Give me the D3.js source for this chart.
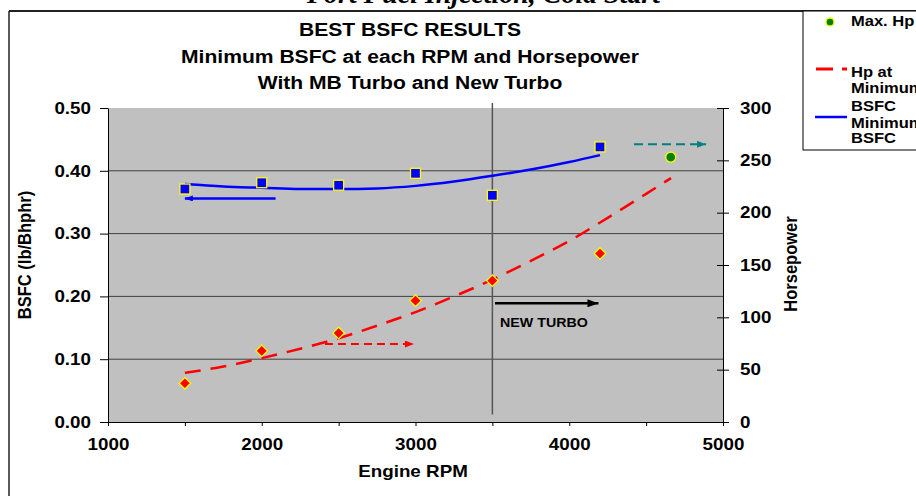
<!DOCTYPE html>
<html>
<head>
<meta charset="utf-8">
<script src="https://cdn.jsdelivr.net/npm/d3@7"></script>
<style>
  body { margin: 0; background: #fff; }
  svg text { font-family: "Liberation Sans", Arial, sans-serif; font-weight: bold; fill: #000; }
</style>
</head>
<body>
<svg id="chart" width="916" height="496"></svg>
<script>
// data
const rpm = [1500, 2000, 2500, 3000, 3500, 4200];
const bsfc = [0.371, 0.381, 0.377, 0.396, 0.361, 0.438];
const hp = [37, 68, 85, 116, 135, 161];
const maxHpRpm = [4660];
const maxHp = [253];

// trend lines as drawn
const bsfcTrendRpm = [1500, 1750, 2000, 2250, 2500, 2750, 3000, 3250, 3500, 3750, 4000, 4200];
const bsfcTrend = [0.379, 0.375, 0.373, 0.371, 0.371, 0.372, 0.376, 0.383, 0.392, 0.402, 0.414, 0.425];
const hpTrendRpm = [1500, 1750, 2000, 2250, 2500, 2750, 3000, 3250, 3500, 3750, 4000, 4250, 4500, 4662];
const hpTrend = [47, 53, 61, 70, 80, 92, 105, 120, 136, 154, 173, 195, 218, 233];

const xTicks = [1000, 2000, 3000, 4000, 5000];
const titleLines = ['BEST BSFC RESULTS', 'Minimum BSFC at each RPM and Horsepower', 'With MB Turbo and New Turbo'];

const SX = 1.14; // text in the picture is stretched sideways
const svg = d3.select('#chart');

const x = d3.scaleLinear().domain([1000, 5000]).range([108, 723]);
const yL = d3.scaleLinear().domain([0, 0.5]).range([422, 108]);
const yR = d3.scaleLinear().domain([0, 300]).range([422, 108]);

function stretch(sel) {
  sel.each(function () {
    const t = d3.select(this);
    const tx = +t.attr('x') || 0;
    t.attr('x', null).attr('transform', `translate(${tx},0) scale(${SX},1)`);
  });
}

function label(txt, px, py, size, anchor, rot) {
  return svg.append('text')
    .attr('transform', `translate(${px},${py}) scale(${SX},1)` + (rot ? ` rotate(${rot})` : ''))
    .attr('text-anchor', anchor || 'start')
    .style('font-size', size + 'px')
    .text(txt);
}

// markers
const defs = svg.append('defs');
function arrowHead(id, color, w, h) {
  defs.append('marker')
    .attr('id', id).attr('viewBox', `0 0 ${w} ${h}`)
    .attr('refX', w).attr('refY', h / 2)
    .attr('markerWidth', w).attr('markerHeight', h)
    .attr('markerUnits', 'userSpaceOnUse')
    .attr('orient', 'auto')
    .append('path').attr('d', `M0,0L${w},${h / 2}L0,${h}Z`).attr('fill', color);
}
arrowHead('ahBlue', '#0000ff', 8, 6);
arrowHead('ahRed', '#ff0000', 9, 7);
arrowHead('ahTeal', '#008080', 9, 7);
arrowHead('ahBlack', '#000', 11, 8);

// cut off heading at top
svg.append('text')
  .attr('x', 307).attr('y', 3)
  .attr('textLength', 353).attr('lengthAdjust', 'spacingAndGlyphs')
  .style('font-family', '"Liberation Serif", serif').style('font-style', 'italic')
  .style('font-size', '28px')
  .text('Port Fuel Injection, Cold Start');

// outer frame
svg.append('line').attr('x1', 9).attr('x2', 916).attr('y1', 11).attr('y2', 11)
  .attr('stroke', '#222').attr('stroke-width', 2);
svg.append('line').attr('x1', 9).attr('x2', 9).attr('y1', 11).attr('y2', 496)
  .attr('stroke', '#222').attr('stroke-width', 1.5);

// plot area
svg.append('rect').attr('x', x(1000)).attr('y', yL(0.5))
  .attr('width', x(5000) - x(1000)).attr('height', yL(0) - yL(0.5))
  .attr('fill', '#c0c0c0');

// grid
svg.append('g').selectAll('line').data([0.1, 0.2, 0.3, 0.4]).join('line')
  .attr('x1', x(1000)).attr('x2', x(5000))
  .attr('y1', d => yL(d)).attr('y2', d => yL(d))
  .attr('stroke', '#404040').attr('stroke-width', 1);

// vertical divider at 3500
svg.append('line').attr('x1', x(3500)).attr('x2', x(3500))
  .attr('y1', yL(0.508)).attr('y2', yL(0.012))
  .attr('stroke', '#555').attr('stroke-width', 1.5);

// axes
const gx = svg.append('g').attr('transform', `translate(0,${yL(0)})`);
gx.call(d3.axisBottom(x).tickValues(d3.range(1000, 5001, 500)).tickSize(4).tickSizeOuter(0).tickFormat(d => xTicks.includes(d) ? d : ''))
  .call(g => g.select('.domain').attr('stroke', '#000'))
  .call(g => g.selectAll('text').attr('y', 16).style('font-size', '16.5px').call(stretch));

const gl = svg.append('g').attr('transform', `translate(${x(1000)},0)`);
gl.call(d3.axisLeft(yL).tickValues(d3.range(0, 0.5001, 0.05)).tickSize(5).tickSizeOuter(0).tickFormat(() => ''));
gl.call(d3.axisLeft(yL).ticks(5).tickSize(8).tickPadding(9).tickSizeOuter(0).tickFormat(d3.format('.2f')))
  .call(g => g.selectAll('text').style('font-size', '16.5px').call(stretch));

const gr = svg.append('g').attr('transform', `translate(${x(5000)},0)`);
gr.call(d3.axisRight(yR).tickValues(d3.range(0, 301, 10)).tickSize(5).tickSizeOuter(0).tickFormat(() => ''));
gr.call(d3.axisRight(yR).tickValues(d3.range(0, 301, 50)).tickSize(6).tickPadding(11).tickSizeOuter(0))
  .call(g => g.selectAll('.tick line').attr('x1', -6))
  .call(g => g.selectAll('text').style('font-size', '16.5px').call(stretch));

// trend lines
svg.append('path')
  .datum(d3.zip(bsfcTrendRpm, bsfcTrend))
  .attr('d', d3.line().x(d => x(d[0])).y(d => yL(d[1])).curve(d3.curveMonotoneX))
  .attr('fill', 'none').attr('stroke', '#0000ff').attr('stroke-width', 2.5);

svg.append('path')
  .datum(d3.zip(hpTrendRpm, hpTrend))
  .attr('d', d3.line().x(d => x(d[0])).y(d => yR(d[1])).curve(d3.curveMonotoneX))
  .attr('fill', 'none').attr('stroke', '#ff0000').attr('stroke-width', 2.5)
  .attr('stroke-dasharray', '16,10');

// annotation arrows (data coordinates)
function arrow(x0, x1, yv, scale, color, marker, dash, w) {
  svg.append('line')
    .attr('x1', x(x0)).attr('x2', x(x1)).attr('y1', scale(yv)).attr('y2', scale(yv))
    .attr('stroke', color).attr('stroke-width', w)
    .attr('stroke-dasharray', dash)
    .attr('marker-end', `url(#${marker})`);
}
arrow(2090, 1500, 0.356, yL, '#0000ff', 'ahBlue', null, 2.5);
arrow(2411, 2990, 74.5, yR, '#ff0000', 'ahRed', '8,5', 2);
arrow(4421, 4890, 265.3, yR, '#008080', 'ahTeal', '9,5', 2);
arrow(3517, 4190, 113.4, yR, '#000', 'ahBlack', null, 2.5);
label('NEW TURBO', x(3550), yR(90.6), 12.5, 'start');

// points
const pts = d3.zip(rpm, bsfc, hp);
svg.append('g').selectAll('rect').data(pts).join('rect')
  .attr('x', d => x(d[0]) - 5).attr('y', d => yL(d[1]) - 5)
  .attr('width', 10).attr('height', 10)
  .attr('fill', '#0000ff').attr('stroke', '#ffff00').attr('stroke-width', 1.3);

svg.append('g').selectAll('path').data(pts).join('path')
  .attr('d', d3.symbol(d3.symbolDiamond2, 85))
  .attr('transform', d => `translate(${x(d[0])},${yR(d[2])})`)
  .attr('fill', '#ff0000').attr('stroke', '#ffff00').attr('stroke-width', 1.2);

svg.append('g').selectAll('circle').data(d3.zip(maxHpRpm, maxHp)).join('circle')
  .attr('cx', d => x(d[0])).attr('cy', d => yR(d[1])).attr('r', 5)
  .attr('fill', '#008000').attr('stroke', '#ffff00').attr('stroke-width', 1.3);

// titles
titleLines.forEach((t, i) => label(t, 410, [36, 63, 89][i], 18.5, 'middle'));
label('Engine RPM', 413, 477, 16.5, 'middle');
label('BSFC (lb/Bhphr)', 31, 255, 16.5, 'middle', -90);
label('Horsepower', 797, 264, 16.5, 'middle', -90);

// legend
const lg = svg.append('g');
lg.append('rect').attr('x', 803).attr('y', 11).attr('width', 130).attr('height', 139)
  .attr('fill', '#fff').attr('stroke', '#000').attr('stroke-width', 1);
lg.append('circle').attr('cx', 830).attr('cy', 22).attr('r', 4)
  .attr('fill', '#008000').attr('stroke', '#ffff00').attr('stroke-width', 1.3);
lg.append('line').attr('x1', 816).attr('x2', 847).attr('y1', 69).attr('y2', 69)
  .attr('stroke', '#ff0000').attr('stroke-width', 3).attr('stroke-dasharray', '17,9');
lg.append('line').attr('x1', 815).attr('x2', 847).attr('y1', 117).attr('y2', 117)
  .attr('stroke', '#0000ff').attr('stroke-width', 2.5);
[['Max. Hp', 26], ['Hp at', 77], ['Minimum', 93], ['BSFC', 111], ['Minimum', 128], ['BSFC', 143]]
  .forEach(d => label(d[0], 851, d[1], 14.5, 'start'));
</script>
</body>
</html>
